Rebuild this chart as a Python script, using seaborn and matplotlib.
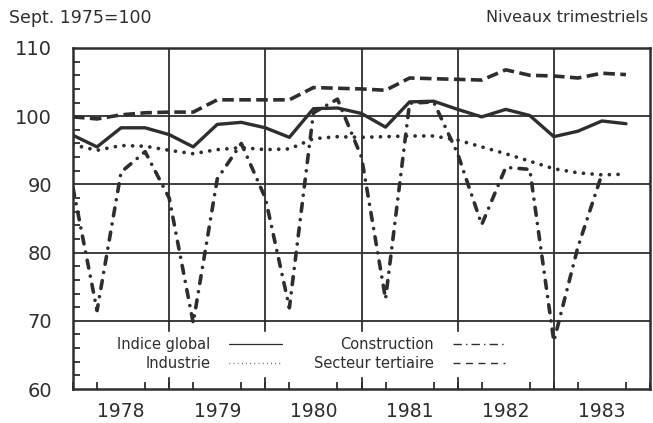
import matplotlib
matplotlib.use("Agg")
import matplotlib.pyplot as plt
import seaborn as sns
import pandas as pd
import numpy as np
from matplotlib.lines import Line2D
from matplotlib.ticker import MultipleLocator, FixedLocator

# ---------------- data (quarterly levels, Sept. 1975 = 100) ----------------
quarters = [1978.0, 1978.25, 1978.5, 1978.75,
            1979.0, 1979.25, 1979.5, 1979.75,
            1980.0, 1980.25, 1980.5, 1980.75,
            1981.0, 1981.25, 1981.5, 1981.75,
            1982.0, 1982.25, 1982.5, 1982.75,
            1983.0, 1983.25, 1983.5, 1983.75]

indice_global = [97.2, 95.5, 98.3, 98.3, 97.3, 95.5, 98.8, 99.1,
                 98.3, 96.9, 101.1, 101.2, 100.4, 98.4, 102.1, 102.2,
                 101.0, 99.9, 101.0, 100.1, 97.0, 97.8, 99.3, 98.9]
industrie = [95.8, 95.0, 95.7, 95.6, 95.0, 94.5, 95.1, 95.4,
             95.1, 95.2, 96.7, 97.0, 96.9, 97.0, 97.1, 97.1,
             96.5, 95.5, 94.5, 93.4, 92.3, 91.7, 91.4, 91.5]
construction = [89.5, 71.5, 91.8, 94.8, 88.0, 69.7, 90.8, 96.0,
                88.0, 71.9, 100.5, 102.5, 94.0, 73.2, 101.9, 102.1,
                94.5, 84.1, 92.5, 92.2, 67.0, 80.8, 91.5, np.nan]
tertiaire = [99.9, 99.6, 100.2, 100.5, 100.6, 100.6, 102.4, 102.4,
             102.4, 102.4, 104.2, 104.1, 104.0, 103.8, 105.6, 105.5,
             105.4, 105.3, 106.8, 106.0, 105.9, 105.6, 106.3, 106.1]

series_names = ["Indice global", "Industrie", "Construction", "Secteur tertiaire"]
year_labels = ["1978", "1979", "1980", "1981", "1982", "1983"]
year_label_pos = [1978.5, 1979.5, 1980.5, 1981.5, 1982.5, 1983.5]
year_bounds = [1979, 1980, 1981, 1982, 1983]
y_ticks = [60, 70, 80, 90, 100, 110]

df = pd.DataFrame({
    "t": quarters * 4,
    "v": indice_global + industrie + construction + tertiaire,
    "serie": sum([[n] * len(quarters) for n in series_names], []),
})

# ---------------- styling ----------------
sns.set_theme(style="white")
plt.rcParams["font.family"] = ["DejaVu Sans"]
INK = "#2e2e2e"

fig = plt.figure(figsize=(6.53, 4.23), dpi=100)
ax = fig.add_axes([73 / 653, 1 - 389 / 423, (650 - 73) / 653, (389 - 48) / 423])

styles = {
    "Indice global": dict(linestyle="-", lw=2.4, solid_capstyle="round"),
    "Industrie": dict(linestyle=(0, (0.01, 2.3)), lw=2.7, dash_capstyle="round"),
    "Construction": dict(linestyle=(0, (2.2, 2.3, 0.01, 2.3)), lw=2.6, dash_capstyle="round"),
    "Secteur tertiaire": dict(linestyle=(0, (3.2, 1.5)), lw=2.6, dash_capstyle="butt"),
}

for name in series_names:
    sub = df[df["serie"] == name].dropna()
    sns.lineplot(data=sub, x="t", y="v", ax=ax, color=INK, errorbar=None,
                 legend=False, zorder=3, **styles[name])

ax.set_xlabel("")
ax.set_ylabel("")
ax.set_xlim(1978, 1984)
ax.set_ylim(60, 110)

# grid
ax.yaxis.set_major_locator(FixedLocator(y_ticks))
ax.grid(False)
for yv in y_ticks[1:-1]:
    ax.axhline(yv, color=INK, lw=1.3, zorder=1)
for xv in year_bounds:
    ax.axvline(xv, color=INK, lw=1.3, zorder=1)

# ticks
ax.xaxis.set_major_locator(FixedLocator(year_label_pos))
ax.set_xticklabels(year_labels)
ax.xaxis.set_minor_locator(MultipleLocator(0.25))
ax.yaxis.set_minor_locator(MultipleLocator(2))
ax.set_yticklabels([str(v) for v in y_ticks])
ax.tick_params(which="major", length=0, labelsize=14, labelcolor=INK)
ax.tick_params(axis="y", which="major", pad=15)
ax.tick_params(axis="x", which="major", pad=9, labelsize=13.5)
ax.tick_params(which="minor", direction="in", length=5, width=1.3, color=INK,
               bottom=True, left=True, top=False, right=False)

for sp in ax.spines.values():
    sp.set_visible(True)
    sp.set_color(INK)
    sp.set_linewidth(1.8)

# legend
handles = [
    Line2D([], [], color=INK, lw=0.9, linestyle="-"),
    Line2D([], [], color=INK, lw=1.0, linestyle=(0, (0.5, 2.5))),
    Line2D([], [], color=INK, lw=1.0, linestyle=(0, (6, 3, 1, 3))),
    Line2D([], [], color=INK, lw=1.0, linestyle=(0, (5, 4))),
]
leg = ax.legend(handles, series_names, ncol=2, markerfirst=False,
                loc="center", bbox_to_anchor=(0.413, 0.103),
                fontsize=10.5, handlelength=3.6, handletextpad=1.3,
                columnspacing=2.2, labelspacing=0.25, borderpad=0.35,
                frameon=True, fancybox=False, framealpha=1,
                facecolor="white", edgecolor="white")
for t in leg.get_texts():
    t.set_color(INK)
leg.set_zorder(2)

# header texts
fig.text(9 / 653, 1 - 18 / 423, "Sept. 1975=100", fontsize=12.5, color=INK,
         ha="left", va="center")
fig.text(648 / 653, 1 - 18 / 423, "Niveaux trimestriels", fontsize=11.5,
         color=INK, ha="right", va="center")

fig.savefig("out.png", dpi=100, facecolor="white")
